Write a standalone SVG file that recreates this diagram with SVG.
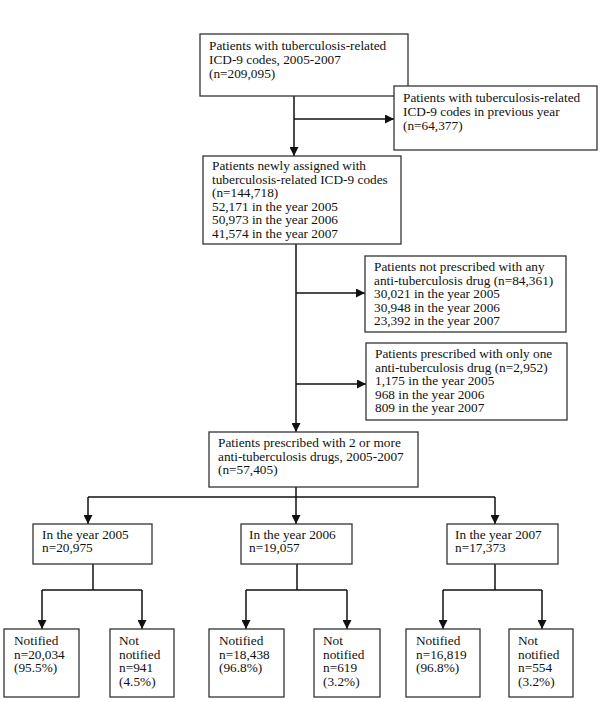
<svg xmlns="http://www.w3.org/2000/svg" width="600" height="702" viewBox="0 0 600 702">
<style>
.box{fill:#fff;stroke:#333;stroke-width:1.3}
.t{font-family:"Liberation Serif","Times New Roman",serif;font-size:13.3px;fill:#111}
.c{fill:none;stroke:#111;stroke-width:1.5}
</style>
<defs>
<marker id="ah" markerUnits="userSpaceOnUse" markerWidth="10" markerHeight="9" refX="9" refY="4.5" orient="auto">
<path d="M0,0 L9,4.5 L0,9 z" fill="#111"/>
</marker>
</defs>
<rect width="600" height="702" fill="#fff"/>
<g id="connectors">
<line class="c" x1="294" y1="96" x2="294" y2="156" marker-end="url(#ah)"/>
<line class="c" x1="294" y1="119" x2="394" y2="119" marker-end="url(#ah)"/>
<line class="c" x1="296" y1="244" x2="296" y2="432" marker-end="url(#ah)"/>
<line class="c" x1="296" y1="293" x2="365" y2="293" marker-end="url(#ah)"/>
<line class="c" x1="296" y1="384" x2="366" y2="384" marker-end="url(#ah)"/>
<line class="c" x1="296" y1="487" x2="296" y2="524" marker-end="url(#ah)"/>
<line class="c" x1="88" y1="497" x2="495" y2="497"/>
<line class="c" x1="88" y1="497" x2="88" y2="524" marker-end="url(#ah)"/>
<line class="c" x1="495" y1="497" x2="495" y2="524" marker-end="url(#ah)"/>
<line class="c" x1="93" y1="564" x2="93" y2="590"/>
<line class="c" x1="42" y1="590" x2="142" y2="590"/>
<line class="c" x1="42" y1="590" x2="42" y2="629" marker-end="url(#ah)"/>
<line class="c" x1="142" y1="590" x2="142" y2="629" marker-end="url(#ah)"/>
<line class="c" x1="297" y1="564" x2="297" y2="590"/>
<line class="c" x1="246" y1="590" x2="347" y2="590"/>
<line class="c" x1="246" y1="590" x2="246" y2="629" marker-end="url(#ah)"/>
<line class="c" x1="347" y1="590" x2="347" y2="629" marker-end="url(#ah)"/>
<line class="c" x1="495" y1="564" x2="495" y2="590"/>
<line class="c" x1="443" y1="590" x2="542" y2="590"/>
<line class="c" x1="443" y1="590" x2="443" y2="629" marker-end="url(#ah)"/>
<line class="c" x1="542" y1="590" x2="542" y2="629" marker-end="url(#ah)"/>
</g>
<g id="n1">
<rect class="box" x="200" y="34" width="208" height="62"/>
<text class="t" x="209" y="50">Patients with tuberculosis-related</text>
<text class="t" x="209" y="64">ICD-9 codes, 2005-2007</text>
<text class="t" x="209" y="78">(n=209,095)</text>
</g>
<g id="n2">
<rect class="box" x="394" y="86" width="203" height="64"/>
<text class="t" x="403" y="102">Patients with tuberculosis-related</text>
<text class="t" x="403" y="116">ICD-9 codes in previous year</text>
<text class="t" x="403" y="130">(n=64,377)</text>
</g>
<g id="n3">
<rect class="box" x="203" y="156" width="198" height="88"/>
<text class="t" x="212" y="170">Patients newly assigned with</text>
<text class="t" x="212" y="183.5">tuberculosis-related ICD-9 codes</text>
<text class="t" x="212" y="197">(n=144,718)</text>
<text class="t" x="212" y="210.5">52,171 in the year 2005</text>
<text class="t" x="212" y="224">50,973 in the year 2006</text>
<text class="t" x="212" y="237.5">41,574 in the year 2007</text>
</g>
<g id="n4">
<rect class="box" x="365" y="256" width="201" height="76"/>
<text class="t" x="374" y="271">Patients not prescribed with any</text>
<text class="t" x="374" y="284.5">anti-tuberculosis drug (n=84,361)</text>
<text class="t" x="374" y="298">30,021 in the year 2005</text>
<text class="t" x="374" y="311.5">30,948 in the year 2006</text>
<text class="t" x="374" y="325">23,392 in the year 2007</text>
</g>
<g id="n5">
<rect class="box" x="366" y="343" width="201" height="77"/>
<text class="t" x="375" y="358">Patients prescribed with only one</text>
<text class="t" x="375" y="371.5">anti-tuberculosis drug (n=2,952)</text>
<text class="t" x="375" y="385">1,175 in the year 2005</text>
<text class="t" x="375" y="398.5">968 in the year 2006</text>
<text class="t" x="375" y="412">809 in the year 2007</text>
</g>
<g id="n6">
<rect class="box" x="209" y="432" width="209" height="55"/>
<text class="t" x="218" y="447">Patients prescribed with 2 or more</text>
<text class="t" x="218" y="460.5">anti-tuberculosis drugs, 2005-2007</text>
<text class="t" x="218" y="474">(n=57,405)</text>
</g>
<g id="y2005">
<rect class="box" x="33" y="524" width="119" height="40"/>
<text class="t" x="42" y="538.5">In the year 2005</text>
<text class="t" x="42" y="552">n=20,975</text>
</g>
<g id="y2006">
<rect class="box" x="241" y="524" width="111" height="40"/>
<text class="t" x="249" y="538.5">In the year 2006</text>
<text class="t" x="249" y="552">n=19,057</text>
</g>
<g id="y2007">
<rect class="box" x="447" y="524" width="111" height="40"/>
<text class="t" x="455" y="538.5">In the year 2007</text>
<text class="t" x="455" y="552">n=17,373</text>
</g>
<g id="n2005a">
<rect class="box" x="4" y="629" width="75" height="68"/>
<text class="t" x="14" y="645">Notified</text>
<text class="t" x="14" y="658.5">n=20,034</text>
<text class="t" x="14" y="672">(95.5%)</text>
</g>
<g id="n2005b">
<rect class="box" x="110" y="629" width="64" height="68"/>
<text class="t" x="119" y="645">Not</text>
<text class="t" x="119" y="658.5">notified</text>
<text class="t" x="119" y="672">n=941</text>
<text class="t" x="119" y="685.5">(4.5%)</text>
</g>
<g id="n2006a">
<rect class="box" x="209" y="629" width="75" height="68"/>
<text class="t" x="219" y="645">Notified</text>
<text class="t" x="219" y="658.5">n=18,438</text>
<text class="t" x="219" y="672">(96.8%)</text>
</g>
<g id="n2006b">
<rect class="box" x="314" y="629" width="66" height="68"/>
<text class="t" x="323" y="645">Not</text>
<text class="t" x="323" y="658.5">notified</text>
<text class="t" x="323" y="672">n=619</text>
<text class="t" x="323" y="685.5">(3.2%)</text>
</g>
<g id="n2007a">
<rect class="box" x="406" y="629" width="74" height="68"/>
<text class="t" x="416" y="645">Notified</text>
<text class="t" x="416" y="658.5">n=16,819</text>
<text class="t" x="416" y="672">(96.8%)</text>
</g>
<g id="n2007b">
<rect class="box" x="509" y="629" width="64" height="68"/>
<text class="t" x="518" y="645">Not</text>
<text class="t" x="518" y="658.5">notified</text>
<text class="t" x="518" y="672">n=554</text>
<text class="t" x="518" y="685.5">(3.2%)</text>
</g>
</svg>
